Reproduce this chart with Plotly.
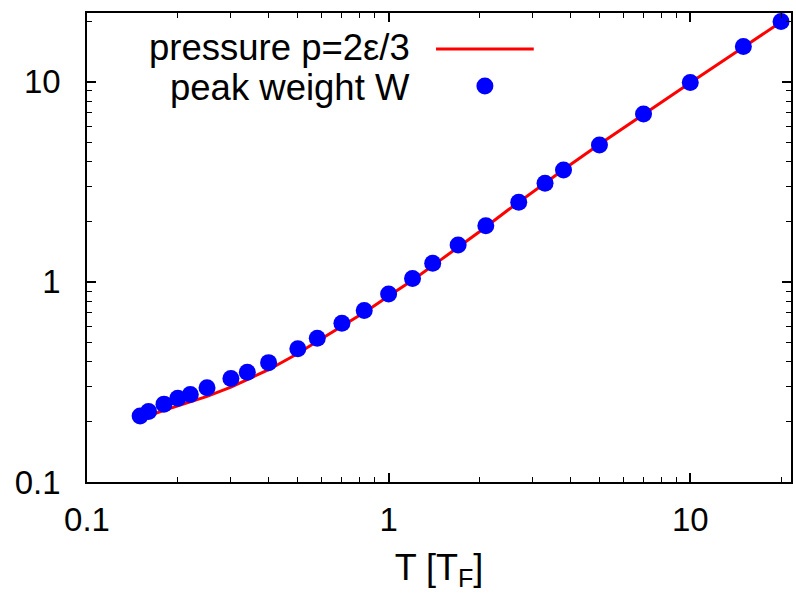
import plotly.graph_objects as go

# Peak weight W (blue dots)
T_points = [0.15, 0.16, 0.18, 0.2, 0.22, 0.25, 0.3, 0.34, 0.4, 0.5, 0.58, 0.7, 0.83,
            1.0, 1.2, 1.4, 1.7, 2.1, 2.7, 3.3, 3.8, 5.0, 7.0, 10.0, 15.0, 20.0]
W_points = [0.214, 0.225, 0.245, 0.262, 0.274, 0.296, 0.329, 0.354, 0.395, 0.464, 0.523,
            0.621, 0.719, 0.871, 1.04, 1.24, 1.53, 1.91, 2.5, 3.11, 3.63, 4.84, 6.9, 9.92,
            15.0, 20.0]

# Pressure p = 2e/3 (red line)
T_line = [0.15, 0.16, 0.18, 0.2, 0.25, 0.3, 0.37, 0.4, 0.49, 0.6, 0.7, 0.85, 1.0, 1.2,
          1.5, 2.0, 2.5, 3.0, 4.0, 5.0, 7.0, 10.0, 15.0, 20.0]
P_line = [0.205, 0.214, 0.228, 0.24, 0.268, 0.298, 0.343, 0.364, 0.431, 0.52, 0.6, 0.72,
          0.85, 1.02, 1.3, 1.78, 2.3, 2.82, 3.85, 4.87, 6.9, 9.9, 14.9, 19.9]

x_major = [0.1, 1, 10]
x_minor = [0.2, 0.3, 0.4, 0.5, 0.6, 0.7, 0.8, 0.9, 2, 3, 4, 5, 6, 7, 8, 9, 20]
y_major = [0.1, 1, 10]
y_minor = [0.2, 0.3, 0.4, 0.5, 0.6, 0.7, 0.8, 0.9, 2, 3, 4, 5, 6, 7, 8, 9, 20]
tick_text = ["0.1", "1", "10"]

legend_labels = ["pressure p=2\u03b5/3", "peak weight W"]

FONT = "Liberation Sans, Arial, Helvetica, sans-serif"

fig = go.Figure()
fig.add_trace(go.Scatter(x=T_line, y=P_line, mode="lines",
                         line=dict(color="#ff0000", width=3), showlegend=False))
fig.add_trace(go.Scatter(x=T_points, y=W_points, mode="markers",
                         marker=dict(color="#0000ff", size=17, line=dict(width=0)),
                         showlegend=False))

axis_common = dict(
    type="log",
    showgrid=False, zeroline=False,
    showline=True, linecolor="black", linewidth=1.5,
    mirror="ticks", ticks="inside", ticklen=9, tickwidth=1.5, tickcolor="black",
    tickfont=dict(family=FONT, size=33, color="black"),
)

fig.update_xaxes(**axis_common, range=[-1, 1.334],
                 tickmode="array", tickvals=x_major, ticktext=tick_text,
                 ticklabelstandoff=8,
                 minor=dict(tickmode="array", tickvals=x_minor, ticks="inside",
                            ticklen=5, tickwidth=1.2, tickcolor="black"),
                 title=dict(text="T [T<sub>F</sub>]", font=dict(family=FONT, size=36, color="black"),
                            standoff=17))
fig.update_yaxes(**axis_common, range=[-1, 1.344],
                 tickmode="array", tickvals=y_major, ticktext=tick_text,
                 ticklabelstandoff=18,
                 minor=dict(tickmode="array", tickvals=y_minor, ticks="inside",
                            ticklen=5, tickwidth=1.2, tickcolor="black"))

# custom gnuplot-style key (text right-aligned, sample on the right)
fig.add_annotation(xref="paper", yref="paper", x=0.4618, y=0.9254, xanchor="right",
                   yanchor="middle", showarrow=False, text=legend_labels[0],
                   font=dict(family=FONT, size=36.5, color="black"))
fig.add_annotation(xref="paper", yref="paper", x=0.4618, y=0.8422, xanchor="right",
                   yanchor="middle", showarrow=False, text=legend_labels[1],
                   font=dict(family=FONT, size=36.5, color="black"))
fig.add_shape(type="line", xref="paper", yref="paper", x0=0.4958, x1=0.6346,
              y0=0.9232, y1=0.9232, line=dict(color="#ff0000", width=3))
fig.add_shape(type="circle", xref="paper", yref="paper", xsizemode="pixel",
              ysizemode="pixel", xanchor=0.5652, yanchor=0.8443,
              x0=-8.5, x1=8.5, y0=-8.5, y1=8.5,
              fillcolor="#0000ff", line=dict(width=0))

fig.update_layout(
    width=796, height=598,
    margin=dict(l=87, r=3, t=13, b=116),
    paper_bgcolor="white", plot_bgcolor="white",
    showlegend=False,
)

fig.write_html("out.html")
